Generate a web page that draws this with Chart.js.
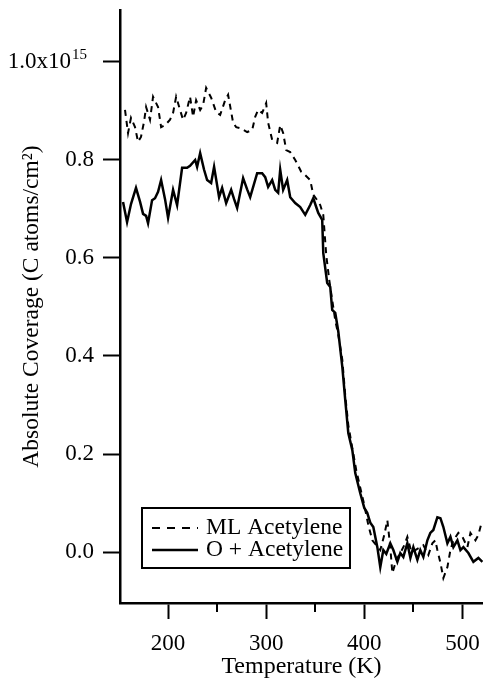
<!DOCTYPE html>
<html>
<head>
<meta charset="utf-8">
<script src="https://cdn.jsdelivr.net/npm/chart.js@4"></script>
<style>
  html, body { margin: 0; padding: 0; background: #fff; }
</style>
</head>
<body>
<canvas id="chart" width="483" height="680"></canvas>
<script>
// ML Acetylene (dashed)
const tempML = [156.1, 159.2, 162.2, 166.3, 169.4, 172.4, 175.5, 177.6, 181.6, 184.7, 189.8, 192.9, 196.9, 202, 205.1, 208.2, 212.2, 215.3, 218.4, 222.4, 225.5, 228.6, 232.7, 235.7, 238.8, 243.9, 249, 253.1, 258.2, 261.2, 266.3, 269.4, 273.5, 280.6, 285.7, 288.8, 291.8, 295.9, 300, 302, 306.1, 311.2, 314.3, 317.3, 320.4, 324.5, 329.6, 335.7, 337.8, 344.9, 348, 352, 355.1, 358.2, 361.2, 364.3, 367.3, 370.4, 373.5, 377.6, 380.6, 383.7, 387.8, 391.8, 395.9, 400, 404.1, 408.2, 412.2, 416.3, 420.4, 423.5, 426.5, 428.6, 432.7, 436.7, 440.8, 443.9, 448, 452, 457.1, 460.2, 465.3, 469.4, 472.4, 474.5, 477.6, 480.6, 484.7, 487.8, 490.8, 495.9, 500, 505.1, 508.2, 513.3, 516.3, 519.4];
const covML = [0.902, 0.855, 0.886, 0.867, 0.837, 0.847, 0.878, 0.908, 0.882, 0.929, 0.908, 0.867, 0.871, 0.882, 0.896, 0.929, 0.902, 0.882, 0.896, 0.929, 0.888, 0.922, 0.902, 0.912, 0.947, 0.927, 0.898, 0.892, 0.922, 0.933, 0.876, 0.867, 0.865, 0.857, 0.861, 0.888, 0.902, 0.896, 0.916, 0.876, 0.841, 0.835, 0.871, 0.855, 0.820, 0.816, 0.800, 0.776, 0.773, 0.759, 0.729, 0.718, 0.708, 0.688, 0.606, 0.555, 0.514, 0.473, 0.443, 0.392, 0.320, 0.259, 0.212, 0.167, 0.131, 0.096, 0.055, 0.024, 0.014, 0.004, 0.035, 0.065, 0.010, -0.043, -0.016, -0.002, 0.014, 0.031, 0.000, 0.004, 0.010, 0.014, -0.006, 0.018, 0.024, 0.004, -0.022, -0.053, -0.031, 0.004, 0.024, 0.039, 0.031, 0.010, 0.039, 0.024, 0.035, 0.059];

// O + Acetylene (solid)
const tempO = [154.1, 158.2, 162.2, 167.3, 171.4, 174.5, 177.6, 179.6, 183.7, 186.7, 189.8, 192.9, 196.9, 200, 205.1, 209.2, 214.3, 219.4, 222.4, 227.6, 229.6, 232.7, 236.7, 239.8, 243.9, 246.9, 252, 255.1, 259.2, 264.3, 267.3, 270.4, 276.5, 280.6, 283.7, 290.8, 295.9, 299, 302, 306.1, 309.2, 312.2, 314.3, 317.3, 321.4, 324.5, 329.6, 334.7, 339.8, 344.9, 348, 351, 353.1, 357.1, 358.2, 362.2, 365.3, 367.3, 370.4, 373.5, 377.6, 380.6, 383.7, 387.8, 390.8, 395.9, 400, 403, 406.1, 409.2, 413.3, 416.3, 419.4, 422.4, 426.5, 429.6, 433.7, 436.7, 439.8, 443.9, 447, 450, 454.1, 457.1, 460.2, 464.3, 467.3, 470.4, 474.5, 477.6, 480.6, 484.7, 487.8, 490.8, 494.9, 498, 501, 506.1, 511.2, 516.3, 520.4];
const covO = [0.714, 0.673, 0.710, 0.743, 0.715, 0.690, 0.686, 0.671, 0.718, 0.722, 0.735, 0.759, 0.720, 0.682, 0.739, 0.708, 0.784, 0.784, 0.788, 0.800, 0.786, 0.814, 0.780, 0.759, 0.753, 0.786, 0.724, 0.743, 0.712, 0.739, 0.720, 0.702, 0.763, 0.740, 0.724, 0.773, 0.773, 0.765, 0.745, 0.759, 0.739, 0.733, 0.780, 0.739, 0.759, 0.724, 0.712, 0.704, 0.688, 0.708, 0.722, 0.704, 0.692, 0.678, 0.610, 0.549, 0.541, 0.494, 0.488, 0.450, 0.378, 0.310, 0.243, 0.208, 0.161, 0.120, 0.090, 0.080, 0.060, 0.051, 0.010, -0.031, 0.004, -0.004, 0.018, 0.004, -0.020, -0.002, -0.010, 0.018, -0.012, 0.010, -0.016, 0.004, -0.010, 0.024, 0.039, 0.045, 0.071, 0.069, 0.051, 0.018, 0.031, 0.010, 0.024, 0.004, 0.010, -0.002, -0.020, -0.012, -0.020];

const seriesNames = ['ML Acetylene', 'O + Acetylene'];
const xTicks = [200, 250, 300, 350, 400, 450, 500];
const yTicks = [0, 0.2, 0.4, 0.6, 0.8, 1.0];

const serif = '"Liberation Serif", "Times New Roman", serif';
const tickFont = { family: serif, size: 23 };
const titleFont = { family: serif, size: 24 };
const topPad = '\u00a0\u00a0\u00a0\u00a0';

// minor ticks, exponent on top label, legend box
const extras = {
  id: 'extras',
  afterDraw(chart) {
    const ctx = chart.ctx;
    const xs = chart.scales.x, ys = chart.scales.y;
    ctx.save();
    ctx.strokeStyle = '#000';
    ctx.fillStyle = '#000';
    ctx.lineWidth = 2;
    xTicks.filter(v => v % 100 !== 0).forEach(v => {
      const px = Math.round(xs.getPixelForValue(v));
      ctx.beginPath();
      ctx.moveTo(px, xs.top);
      ctx.lineTo(px, xs.top + 9);
      ctx.stroke();
    });

    ctx.font = tickFont.size + 'px ' + serif;
    const padW = ctx.measureText(topPad).width;
    const labelRight = ys.right - 17 - 9;
    const py = ys.getPixelForValue(1);
    ctx.font = '15px ' + serif;
    ctx.textAlign = 'left';
    ctx.textBaseline = 'alphabetic';
    ctx.fillText('15', labelRight - padW + 1, py - 3);

    const lg = { x: 142, y: 508, w: 208, h: 60 };
    ctx.fillStyle = '#fff';
    ctx.fillRect(lg.x, lg.y, lg.w, lg.h);
    ctx.lineWidth = 2;
    ctx.strokeRect(lg.x, lg.y, lg.w, lg.h);
    ctx.fillStyle = '#000';
    ctx.font = '23.5px ' + serif;
    ctx.textBaseline = 'middle';
    chart.data.datasets.forEach((ds, i) => {
      const cy = lg.y + 20 + i * 22;
      ctx.lineWidth = ds.borderWidth;
      ctx.setLineDash(ds.borderDash.length ? [8, 7] : []);
      ctx.beginPath();
      ctx.moveTo(lg.x + 10, cy);
      ctx.lineTo(lg.x + 56, cy);
      ctx.stroke();
      ctx.setLineDash([]);
      ctx.fillText(ds.label, lg.x + 64, cy);
    });
    ctx.restore();
  }
};

new Chart(document.getElementById('chart'), {
  type: 'line',
  data: {
    datasets: [{
      label: seriesNames[0],
      data: tempML.map((t, i) => ({ x: t, y: covML[i] })),
      borderColor: '#000',
      borderWidth: 2,
      borderDash: [6, 5],
      pointRadius: 0,
      tension: 0,
      order: 1
    }, {
      label: seriesNames[1],
      data: tempO.map((t, i) => ({ x: t, y: covO[i] })),
      borderColor: '#000',
      borderWidth: 2.5,
      borderDash: [],
      pointRadius: 0,
      tension: 0,
      order: 0
    }]
  },
  options: {
    responsive: false,
    animation: false,
    layout: { padding: { top: 10, right: 0, bottom: 0, left: 0 } },
    plugins: { legend: { display: false }, tooltip: { enabled: false } },
    scales: {
      x: {
        type: 'linear',
        min: 151,
        max: 521,
        afterFit: s => { s.height = 77; s.paddingLeft = 0; s.paddingRight = 0; },
        afterBuildTicks: s => { s.ticks = xTicks.map(v => ({ value: v })); },
        grid: {
          drawOnChartArea: false,
          tickLength: 16,
          tickWidth: 2,
          tickColor: c => (c.tick && c.tick.value % 100 === 0) ? '#000' : 'rgba(0,0,0,0)'
        },
        border: { display: true, color: '#000', width: 2.5 },
        ticks: {
          callback: v => v % 100 === 0 ? String(v) : '',
          color: '#000',
          font: tickFont,
          padding: 11,
          maxRotation: 0,
          autoSkip: false
        },
        title: { display: true, text: 'Temperature (K)', color: '#000', font: titleFont, padding: { top: 0, bottom: -1 } }
      },
      y: {
        min: -0.104,
        max: 1.106,
        afterFit: s => { s.width = 120; s.paddingTop = 0; s.paddingBottom = 0; },
        afterBuildTicks: s => { s.ticks = yTicks.map(v => ({ value: v })); },
        grid: { drawOnChartArea: false, tickLength: 17, tickWidth: 2, tickColor: '#000' },
        border: { display: true, color: '#000', width: 2.5 },
        ticks: {
          callback: v => v === 1 ? '1.0x10' + topPad : v.toFixed(1),
          color: '#000',
          font: tickFont,
          padding: 9,
          autoSkip: false
        },
        title: { display: true, text: 'Absolute Coverage (C atoms/cm²)', color: '#000', font: { family: serif, size: 23.5 }, padding: { top: 18, bottom: 0 } }
      }
    }
  },
  plugins: [extras]
});
</script>
</body>
</html>
